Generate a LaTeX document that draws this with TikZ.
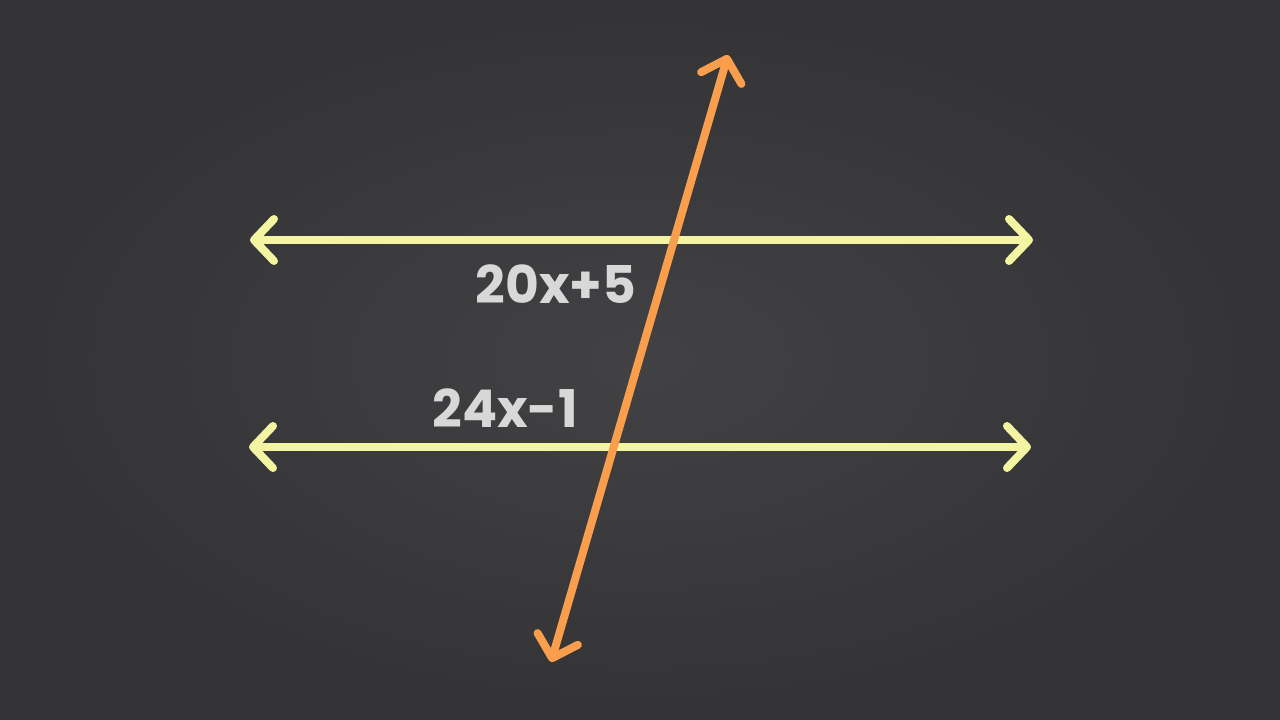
\documentclass[tikz,border=0pt]{standalone}
\usepackage{fontspec}
\setmainfont{Poppins}
\usetikzlibrary{arrows.meta}
\definecolor{board}{HTML}{3C3C3E}
\definecolor{boardlight}{HTML}{4A4A4C}
\definecolor{boarddark}{HTML}{2A2A2C}
\definecolor{lineyellow}{HTML}{F3F5A2}
\definecolor{lineorange}{HTML}{F89E4C}
\definecolor{chalk}{HTML}{D8D8D8}
\tikzset{
  barb/.tip={Straight Barb[length=20pt, width=42pt, line width=8pt, line cap=round, line join=round]},
  parallel/.style={draw=lineyellow, line width=8pt, line cap=round, barb-barb},
  transversal/.style={draw=lineorange, line width=8pt, line cap=round, barb-barb},
  anglelabel/.style={text=chalk, font=\fontsize{52}{56}\selectfont\bfseries, inner sep=0pt}
}
\begin{document}
\begin{tikzpicture}[x=1pt, y=-1pt]
  \useasboundingbox (0,0) rectangle (1280,720);
  \shade[inner color=boardlight, outer color=boarddark] (0,0) rectangle (1280,720);
  \fill[board, opacity=0.55] (0,0) rectangle (1280,720);
  % endpoints
  \coordinate (L1) at (250,240);
  \coordinate (R1) at (1033,240);
  \coordinate (L2) at (249,447);
  \coordinate (R2) at (1031,447);
  \coordinate (T) at (728,55);
  \coordinate (B) at (551,662);
  \draw[parallel] (L1) -- (R1);
  \draw[parallel] (L2) -- (R2);
  \draw[transversal] (B) -- (T);
  \node[anglelabel] (a1) at (556,284) {20x+5};
  \node[anglelabel] (a2) at (505,408) {24x-1};
\end{tikzpicture}
\end{document}
